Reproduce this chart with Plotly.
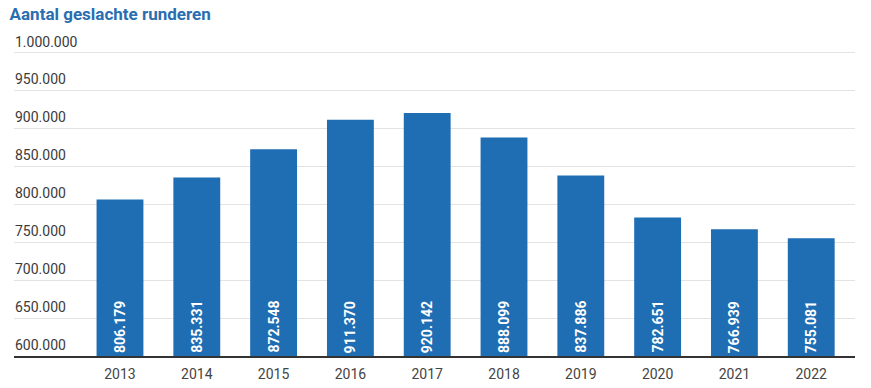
import plotly.graph_objects as go

years = ["2013", "2014", "2015", "2016", "2017", "2018", "2019", "2020", "2021", "2022"]
slaughtered = [806179, 835331, 872548, 911370, 920142, 888099, 837886, 782651, 766939, 755081]
y_ticks = [600000, 650000, 700000, 750000, 800000, 850000, 900000, 950000, 1000000]

BLUE = "#1f6eb3"
Y_MIN, Y_MAX = 600000, 1002000


def nl(v):
    return f"{v:,}".replace(",", ".")


fig = go.Figure(go.Bar(
    x=years, y=slaughtered,
    marker=dict(color=BLUE, line=dict(width=0)),
    hoverinfo="skip",
))

annotations = []
for t in y_ticks:
    annotations.append(dict(
        xref="paper", yref="y", x=0, y=t, xanchor="left", yanchor="bottom",
        text=nl(t), showarrow=False, yshift=1, xshift=-1,
        font=dict(family="Roboto", size=14, color="#3a3a3a"),
    ))
for i, v in enumerate(slaughtered):
    annotations.append(dict(
        xref="x", yref="y", x=i, y=Y_MIN, xanchor="center", yanchor="bottom",
        text=f"<b>{nl(v)}</b>", showarrow=False, textangle=-90, yshift=1,
        font=dict(family="Roboto", size=14, color="white"),
    ))

fig.update_layout(
    width=871, height=388,
    margin=dict(l=14, r=16, t=51, b=32, autoexpand=False),
    paper_bgcolor="white", plot_bgcolor="white",
    font=dict(family="Roboto", color="#333"),
    title=dict(text="<b>Aantal geslachte runderen</b>", x=0.011, xanchor="left",
               y=0.963, yanchor="middle",
               font=dict(family="Roboto", size=17, color="#2a6db0")),
    bargap=0.39,
    showlegend=False,
    annotations=annotations,
)
fig.update_xaxes(
    type="category", range=[-1.38, 9.57], automargin=False,
    showline=True, linecolor="#333", linewidth=2,
    showgrid=False, ticks="", ticklabelstandoff=4,
    tickfont=dict(size=14, color="#444"),
)
fig.update_yaxes(
    range=[Y_MIN, Y_MAX], tickvals=y_ticks, showticklabels=False, automargin=False,
    showgrid=True, gridcolor="#e3e3e3", gridwidth=1,
    zeroline=False, showline=False, ticks="",
)

fig.write_html("out.html", config={"displayModeBar": False},
               post_script="document.body.style.margin='0';")
